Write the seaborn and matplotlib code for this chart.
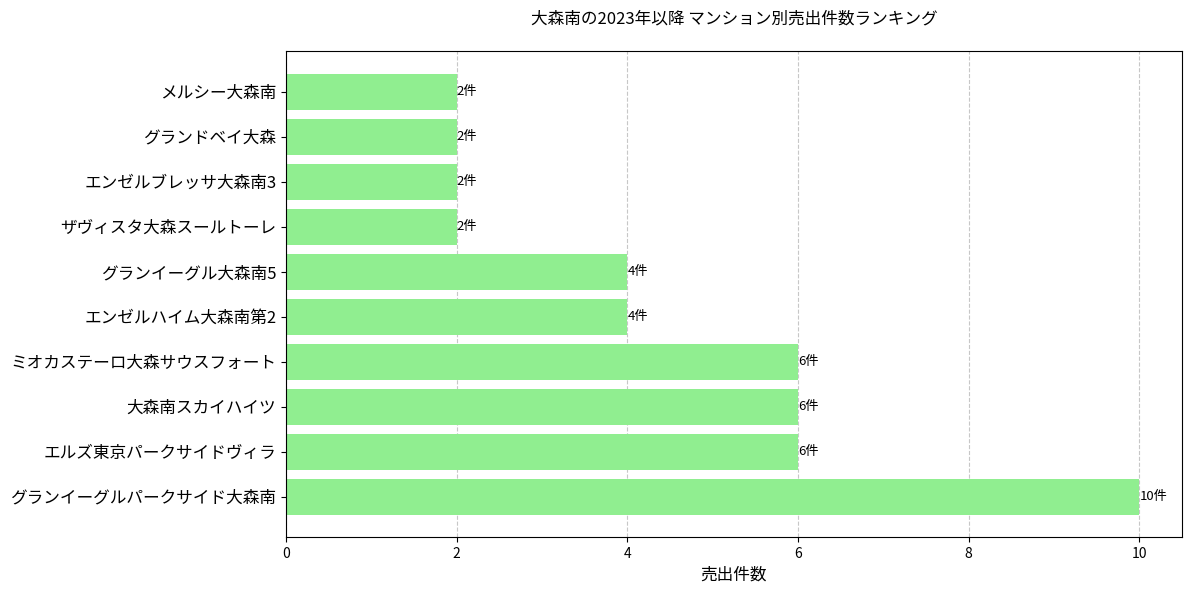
import matplotlib
matplotlib.use("Agg")
import matplotlib.pyplot as plt
import pandas as pd
import seaborn as sns

plt.rcParams['font.family'] = ['Noto Sans CJK JP', 'DejaVu Sans']

# マンション名と売出件数(上から順)
mansions = [
    "メルシー大森南",
    "グランドベイ大森",
    "エンゼルブレッサ大森南3",
    "ザヴィスタ大森スールトーレ",
    "グランイーグル大森南5",
    "エンゼルハイム大森南第2",
    "ミオカステーロ大森サウスフォート",
    "大森南スカイハイツ",
    "エルズ東京パークサイドヴィラ",
    "グランイーグルパークサイド大森南",
]
counts = [2, 2, 2, 2, 4, 4, 6, 6, 6, 10]

df = pd.DataFrame({"mansion": mansions, "count": counts})

fig, ax = plt.subplots(figsize=(11.93, 5.93), dpi=100)
sns.barplot(data=df, y="mansion", x="count", order=mansions,
            color="#90EE90", saturation=1, width=0.8, ax=ax, zorder=2)

for i, v in enumerate(counts):
    ax.text(v, i, f"{v}件", va="center", ha="left", fontsize=9.5)

ax.set_ylim(len(mansions) - 0.1, -0.9)
ax.set_xlim(0, 10.5)
ax.grid(axis="x", linestyle="--", alpha=0.7, zorder=0)
ax.set_axisbelow(True)
ax.set_title("大森南の2023年以降 マンション別売出件数ランキング", fontsize=12, pad=20)
ax.set_xlabel("売出件数", fontsize=12)
ax.set_ylabel("")
ax.tick_params(axis="y", labelsize=12)
ax.tick_params(axis="x", labelsize=10)

fig.subplots_adjust(left=286 / 1193, right=1182 / 1193,
                    top=1 - 51 / 593, bottom=1 - 537 / 593)
plt.savefig("out.png", dpi=100)
